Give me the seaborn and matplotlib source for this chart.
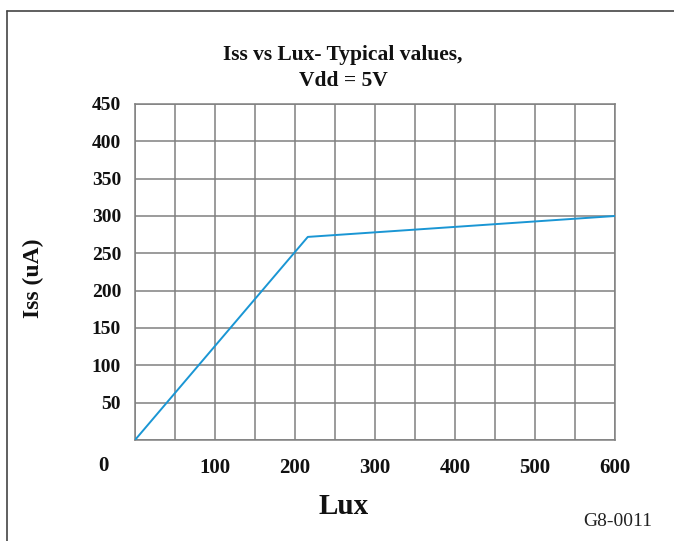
import matplotlib
matplotlib.use("Agg")
import matplotlib.pyplot as plt
from matplotlib.lines import Line2D
import seaborn as sns
import pandas as pd

# Supply current vs illuminance, typical values at Vdd = 5 V
lux = [0, 216, 600]
iss_ua = [0, 272, 300]
x_ticks = [100, 200, 300, 400, 500, 600]
y_ticks = [50, 100, 150, 200, 250, 300, 350, 400, 450]

df = pd.DataFrame({"Lux": lux, "Iss": iss_ua})

sns.set_theme(style="white")
plt.rcParams["font.family"] = ["Liberation Serif", "DejaVu Serif"]

W, H = 674, 541
fig = plt.figure(figsize=(W / 100, H / 100), dpi=100)
ax = fig.add_axes([135 / W, 1 - 440 / H, 480 / W, 336 / H])

grid_col = "#808080"
sns.lineplot(data=df, x="Lux", y="Iss", ax=ax, color="#1a96d4", linewidth=1.4, zorder=3)

ax.set_xlim(0, 600)
ax.set_ylim(0, 450)
ax.set_xticks(x_ticks)
ax.set_xticks(range(0, 601, 50), minor=True)
ax.set_yticks(y_ticks)
ax.set_yticks(range(0, 451, 50), minor=True)
ax.grid(which="both", color=grid_col, linewidth=1.1)
ax.tick_params(which="both", length=0)
ax.tick_params(axis="x", pad=13)
ax.tick_params(axis="y", pad=10)
for lab in ax.get_xticklabels():
    lab.set_fontweight("bold")
    lab.set_fontsize(15)
    lab.set_color("#111111")
for lab in ax.get_yticklabels():
    lab.set_fontweight("bold")
    lab.set_fontsize(14)
    lab.set_color("#111111")
for s in ax.spines.values():
    s.set_color(grid_col)
    s.set_linewidth(1.1)
ax.set_xlabel("")
ax.set_ylabel("")

fig.text(103 / W, 1 - 466 / H, "0", ha="center", va="center",
         fontsize=15, fontweight="bold", color="#111111")
fig.text(343 / W, 1 - 68 / H, "Iss vs Lux- Typical values,\nVdd = 5V",
         ha="center", va="center", fontsize=15.5, fontweight="bold",
         linespacing=1.35, color="#111111")
fig.text(344 / W, 1 - 507 / H, "Lux", ha="center", va="center",
         fontsize=21, fontweight="bold", color="#111111")
fig.text(33 / W, 1 - 278 / H, "Iss (uA)", ha="center", va="center",
         rotation=90, fontsize=17, fontweight="bold", color="#111111")
fig.text(618 / W, 1 - 521 / H, "G8-0011", ha="center", va="center",
         fontsize=14, color="#222222")

# open frame along the top and left edges
fig.add_artist(Line2D([7 / W, 1], [1 - 11 / H, 1 - 11 / H],
                      transform=fig.transFigure, color="#444444", linewidth=1.2))
fig.add_artist(Line2D([7 / W, 7 / W], [0, 1 - 11 / H],
                      transform=fig.transFigure, color="#444444", linewidth=1.2))

fig.savefig("out.png", dpi=100)
